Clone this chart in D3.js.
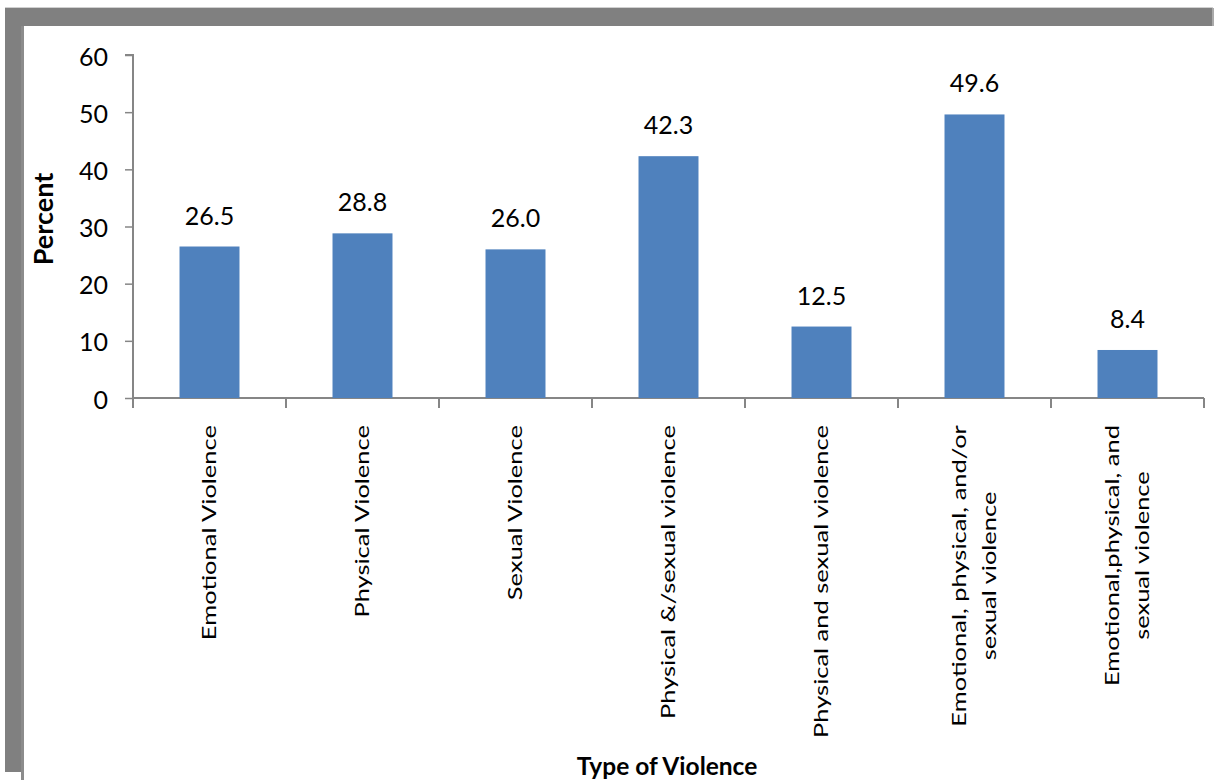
<!DOCTYPE html>
<html>
<head>
<meta charset="utf-8">
<script src="https://cdn.jsdelivr.net/npm/d3@7"></script>
<style>
  body { margin: 0; background: #fff; }
  text { font-family: Lato, "Liberation Sans", Arial, sans-serif; fill: #000; }
</style>
</head>
<body>
<svg id="chart" width="1217" height="780"></svg>
<script>
// Chart data
var categories = [
    ["Emotional Violence"],
    ["Physical Violence"],
    ["Sexual Violence"],
    ["Physical &/sexual violence"],
    ["Physical and sexual violence"],
    ["Emotional, physical, and/or", "sexual violence"],
    ["Emotional,physical, and", "sexual violence"]
];
var values = [26.5, 28.8, 26.0, 42.3, 12.5, 49.6, 8.4];
var yTicks = [0, 10, 20, 30, 40, 50, 60];

(function () {
    var svg = d3.select("#chart");

    // Grey frame from the original screenshot
    svg.append("rect").attr("x", 5).attr("y", 7).attr("width", 1208).attr("height", 1).attr("fill", "#d0d0d0");
    svg.append("rect").attr("x", 5).attr("y", 8).attr("width", 1208).attr("height", 18).attr("fill", "#808080");
    svg.append("rect").attr("x", 5).attr("y", 8).attr("width", 16).attr("height", 764).attr("fill", "#808080");
    svg.append("rect").attr("x", 21).attr("y", 26).attr("width", 3).attr("height", 754).attr("fill", "#8c8c8c");
    svg.append("rect").attr("x", 1212).attr("y", 8).attr("width", 2).attr("height", 18).attr("fill", "#aaaaaa");

    // Plot area
    var plotLeft = 133, plotRight = 1204, plotTop = 55, plotBottom = 398;

    var x = d3.scaleBand()
        .domain(d3.range(values.length))
        .range([plotLeft, plotRight])
        .padding(0);

    var y = d3.scaleLinear()
        .domain([0, 60])
        .range([plotBottom, plotTop]);

    var axisColor = "#868686";

    // Y axis
    var yAxis = svg.append("g")
        .attr("transform", "translate(" + plotLeft + ",0)")
        .call(d3.axisLeft(y).tickValues(yTicks).tickSize(8).tickPadding(17));
    yAxis.select(".domain").attr("stroke", axisColor).attr("stroke-width", 2)
        .attr("d", "M-8," + plotTop + "H0V" + (plotBottom + 10));
    yAxis.selectAll(".tick line").attr("stroke", axisColor).attr("stroke-width", 1.5);
    yAxis.selectAll(".tick text")
        .style("font-size", "25px")
        .attr("dy", "0.4em");

    // X axis line with category boundary ticks
    svg.append("line")
        .attr("x1", plotLeft).attr("x2", plotRight)
        .attr("y1", plotBottom).attr("y2", plotBottom)
        .attr("stroke", axisColor).attr("stroke-width", 2);
    svg.selectAll(".xtick")
        .data(d3.range(values.length + 1))
        .enter()
        .append("line")
        .attr("class", "xtick")
        .attr("x1", function (d) { return d < values.length ? x(d) : plotRight; })
        .attr("x2", function (d) { return d < values.length ? x(d) : plotRight; })
        .attr("y1", plotBottom)
        .attr("y2", plotBottom + 10)
        .attr("stroke", axisColor)
        .attr("stroke-width", 2);

    // Bars
    var barWidth = x.bandwidth() * 0.392;
    svg.selectAll(".bar")
        .data(values)
        .enter()
        .append("rect")
        .attr("class", "bar")
        .attr("x", function (d, i) { return x(i) + (x.bandwidth() - barWidth) / 2; })
        .attr("y", function (d) { return y(d); })
        .attr("width", barWidth)
        .attr("height", function (d) { return y(0) - y(d); })
        .attr("fill", "#4f81bd");

    // Value labels
    svg.selectAll(".vlabel")
        .data(values)
        .enter()
        .append("text")
        .attr("class", "vlabel")
        .attr("x", function (d, i) { return x(i) + x.bandwidth() / 2; })
        .attr("y", function (d) { return y(d) - 22; })
        .attr("text-anchor", "middle")
        .style("font-size", "25px")
        .text(function (d) { return d.toFixed(1); });

    // Category labels, rotated, lines centred on each other
    var labelTop = 425;
    var lineGap = 30;
    categories.forEach(function (lines, i) {
        var cx = x(i) + x.bandwidth() / 2;
        var g = svg.append("g");
        var texts = lines.map(function (s) {
            return g.append("text").style("font-size", "25.5px").attr("text-anchor", "middle").text(s);
        });
        var maxLen = d3.max(texts, function (t) { return t.node().getComputedTextLength(); });
        var n = lines.length;
        texts.forEach(function (t, k) {
            var off = (k - (n - 1) / 2) * lineGap;
            t.attr("transform", "translate(" + (cx + off) + "," + (labelTop + maxLen / 2) + ") rotate(-90) scale(1,0.72)")
             .attr("dy", "0.35em");
        });
    });

    // Axis titles
    svg.append("text")
        .attr("transform", "translate(53,219) rotate(-90)")
        .attr("text-anchor", "middle")
        .style("font-size", "27px")
        .style("font-weight", "bold")
        .text("Percent");

    svg.append("text")
        .attr("x", 667)
        .attr("y", 775)
        .attr("text-anchor", "middle")
        .style("font-size", "24.5px")
        .style("font-weight", "bold")
        .text("Type of Violence");
})();
</script>
</body>
</html>
